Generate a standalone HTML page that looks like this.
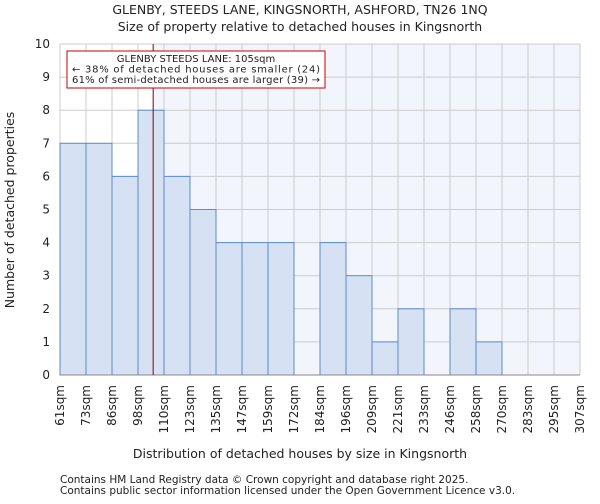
<!DOCTYPE html>
<html><head><meta charset="utf-8"><style>
body{margin:0;background:#fff;font-family:"DejaVu Sans","Liberation Sans",sans-serif}
svg text{font-family:"DejaVu Sans","Liberation Sans",sans-serif;fill:#222}
</style></head><body>
<svg id="c" width="600" height="500" viewBox="0 0 600 500">
<text x="300" y="14" text-anchor="middle" font-size="12.5">GLENBY, STEEDS LANE, KINGSNORTH, ASHFORD, TN26 1NQ</text>
<text x="300" y="31" text-anchor="middle" font-size="12.5">Size of property relative to detached houses in Kingsnorth</text>
<g id="plot"></g>
<text x="300" y="458" text-anchor="middle" font-size="12.5">Distribution of detached houses by size in Kingsnorth</text>
<text transform="translate(14,210) rotate(-90)" text-anchor="middle" font-size="12.5">Number of detached properties</text>
<text x="60" y="483" font-size="10.5" fill="#444">Contains HM Land Registry data © Crown copyright and database right 2025.</text>
<text x="60" y="494" font-size="10.5" fill="#444">Contains public sector information licensed under the Open Government Licence v3.0.</text>
</svg>
<script>
const binLabels=["61sqm","73sqm","86sqm","98sqm","110sqm","123sqm","135sqm","147sqm","159sqm","172sqm","184sqm","196sqm","209sqm","221sqm","233sqm","246sqm","258sqm","270sqm","283sqm","295sqm","307sqm"];
const binEdges=[61,73,86,98,110,123,135,147,159,172,184,196,209,221,233,246,258,270,283,295,307];
const counts=[7,7,6,8,6,5,4,4,4,0,4,3,1,2,0,2,1,0,0,0];
const yTicks=[0,1,2,3,4,5,6,7,8,9,10];
const propertySize=105;
const L=60,R=580,T=44,B=375,yMax=10;
const ns="http://www.w3.org/2000/svg";
const g=document.getElementById('plot');
const n=counts.length,bw=(R-L)/n;
function xIdx(i){return L+i*bw;}
function xVal(v){let i=0;while(i<n-1&&v>binEdges[i+1])i++;return xIdx(i)+bw*(v-binEdges[i])/(binEdges[i+1]-binEdges[i]);}
function y(v){return B-(B-T)*v/yMax;}
function mk(t,a){const e=document.createElementNS(ns,t);for(const k in a)e.setAttribute(k,a[k]);g.appendChild(e);return e;}
const px=xVal(propertySize);
let sh=mk('rect',{x:px,y:T,width:R-px,height:B-T,fill:'#f2f5fc'});


yTicks.forEach(t=>{let l=mk('line',{x1:L,x2:R,y1:y(t),y2:y(t),stroke:'#ccc'});


let tx=mk('text',{x:L-10,y:y(t)+4,'text-anchor':'end','font-size':12});tx.textContent=t;

});
for(let i=0;i<=n;i++){let l=mk('line',{x1:xIdx(i),x2:xIdx(i),y1:T,y2:B,stroke:'#ccc'});

}
counts.forEach((c,i)=>{if(!c)return;let r=mk('rect',{x:xIdx(i),y:y(c),width:bw,height:B-y(c),fill:'#d6e1f3',stroke:'#5b8bd0','stroke-width':1});

});
binLabels.forEach((s,i)=>{let tx=mk('text',{transform:`translate(${xIdx(i)+4},${B+10}) rotate(-90)`,'text-anchor':'end','font-size':12});tx.textContent=s;

});
let ax=mk('line',{x1:L,x2:R,y1:B,y2:B,stroke:'#888'});


let ml=mk('line',{x1:px,x2:px,y1:T,y2:B,stroke:'#800','stroke-width':1});


let bx=mk('rect',{x:67,y:51,width:258,height:37,fill:'#fff',stroke:'#c00','stroke-width':1});


["GLENBY STEEDS LANE: 105sqm","← 38% of detached houses are smaller (24)","61% of semi-detached houses are larger (39) →"].forEach((s,i)=>{let tx=mk('text',{x:196,y:62+i*10.5,'text-anchor':'middle','font-size':10,textLength:i==0?null:248}); if(i==0)tx.removeAttribute('textLength'); tx.textContent=s;

});
</script>
</body></html>
